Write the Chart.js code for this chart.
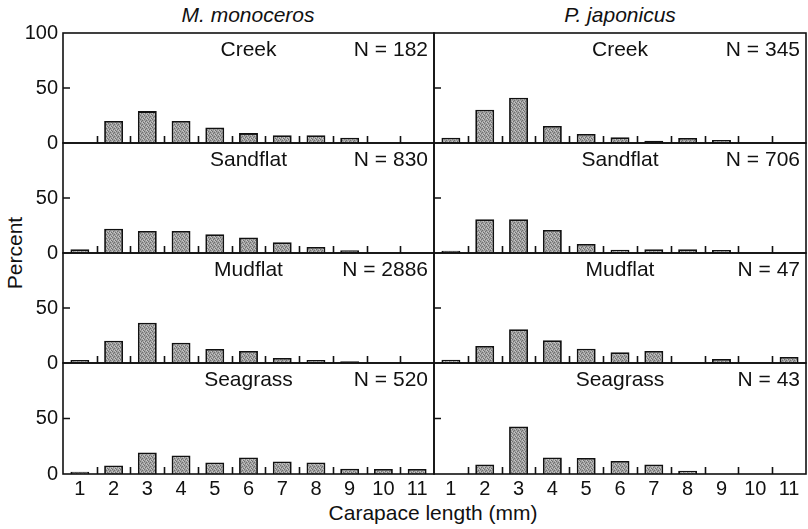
<!DOCTYPE html>
<html>
<head>
<meta charset="utf-8">
<script src="https://cdn.jsdelivr.net/npm/chart.js@4.4.0/dist/chart.umd.min.js"></script>
<style>
  body { margin: 0; background: #fff; width: 808px; height: 529px; overflow: hidden; position: relative;
         font-family: "Liberation Sans", Arial, sans-serif; color: #111; }
  canvas { position: absolute; }
  .lbl { position: absolute; font-size: 21px; white-space: nowrap; transform: translate(-50%, -50%); }
</style>
</head>
<body>
<div class="lbl" style="left:248px;top:15px;font-style:italic">M. monoceros</div>
<div class="lbl" style="left:620px;top:15px;font-style:italic">P. japonicus</div>
<div class="lbl" style="left:15px;top:253px;transform:translate(-50%,-50%) rotate(-90deg)">Percent</div>
<div class="lbl" style="left:433px;top:513px">Carapace length (mm)</div>

<script>
// size classes (mm) on the x axis
const sizes = ["1", "2", "3", "4", "5", "6", "7", "8", "9", "10", "11"];
const habitats = ["Creek", "Sandflat", "Mudflat", "Seagrass"];
const yTicks = [0, 50, 100];

// sample sizes per habitat
const monocerosN = [182, 830, 2886, 520];
const japonicusN = [345, 706, 47, 43];

// percent of individuals per size class, M. monoceros
const monocerosCreek    = [0, 20, 29, 20, 14, 9, 7, 7, 4.8, 0, 0];
const monocerosSandflat = [3.3, 22, 20, 20, 17, 14, 9.7, 5.5, 2.4, 0, 0];
const monocerosMudflat  = [2.7, 20.3, 36.7, 18.5, 12.7, 10.9, 4.5, 2.7, 1.5, 0, 0];
const monocerosSeagrass = [2.1, 7.6, 19.4, 16.7, 10.3, 14.8, 11.2, 10.3, 4.8, 4.5, 4.5];

// percent of individuals per size class, P. japonicus
const japonicusCreek    = [4.8, 30.3, 41.2, 15.5, 8.2, 5.2, 2, 4.5, 2.7, 0, 0];
const japonicusSandflat = [2.1, 30.6, 30.6, 20.9, 8.2, 3, 3.3, 3.3, 2.7, 0, 0];
const japonicusMudflat  = [3, 15.5, 30.6, 20.6, 13, 9.7, 10.9, 0, 3.6, 0, 5.5];
const japonicusSeagrass = [0, 8.5, 42.7, 14.8, 14.5, 11.8, 8.5, 3, 0, 0, 0];

const columns = [
  { values: [monocerosCreek, monocerosSandflat, monocerosMudflat, monocerosSeagrass], counts: monocerosN },
  { values: [japonicusCreek, japonicusSandflat, japonicusMudflat, japonicusSeagrass], counts: japonicusN },
];

// page layout of the panels
const rowTops = [33, 143, 253, 363];
const rowBottoms = [143, 253, 363, 474];
const colLefts = [63, 434];
const colRights = [434, 806];
const canvasLefts = [0, 424];
const canvasRights = [437, 808];
const PAD = 22; // room above/below each panel for tick labels

// stippled grey fill for the bars
function stipple() {
  const c = document.createElement("canvas");
  c.width = 4; c.height = 4;
  const g = c.getContext("2d");
  g.fillStyle = "#a0a0a0";
  g.fillRect(0, 0, 4, 4);
  g.fillStyle = "#707070";
  [[0, 0], [2, 1], [1, 2], [3, 3]].forEach(([x, y]) => g.fillRect(x, y, 1, 1));
  g.fillStyle = "#c6c6c6";
  [[2, 3], [0, 2], [3, 0]].forEach(([x, y]) => g.fillRect(x, y, 1, 1));
  return g.createPattern(c, "repeat");
}
const barFill = stipple();

const panelDeco = {
  id: "panelDeco",
  afterDatasetsDraw(chart, args, opts) {
    const { ctx, chartArea: a } = chart;
    const xs = chart.scales.x, ys = chart.scales.y;
    ctx.save();
    ctx.strokeStyle = "#111";
    ctx.lineWidth = 1.6;
    ctx.beginPath();
    for (let i = 0; i < sizes.length - 1; i++) {
      const x = Math.round((xs.getPixelForValue(i) + xs.getPixelForValue(i + 1)) / 2) + 0.5;
      ctx.moveTo(x, a.bottom);
      ctx.lineTo(x, a.bottom - 7);
    }
    const y50 = ys.getPixelForValue(50);
    ctx.moveTo(a.left, y50);
    ctx.lineTo(a.left + 7, y50);
    ctx.stroke();
    ctx.strokeRect(a.left, a.top, a.right - a.left, a.bottom - a.top);

    ctx.fillStyle = "#111";
    ctx.font = "21px 'Liberation Sans', Arial, sans-serif";
    ctx.textBaseline = "middle";
    ctx.textAlign = "center";
    ctx.fillText(opts.habitat, (a.left + a.right) / 2, a.top + 17.5);
    ctx.textAlign = "right";
    ctx.fillText("N = " + opts.n, a.right - 6, a.top + 17.5);
    ctx.restore();
  },
};

columns.forEach((col, c) => {
  habitats.forEach((habitat, r) => {
    const isBottom = r === habitats.length - 1;
    const canvasTop = rowTops[r] - PAD;
    const width = canvasRights[c] - canvasLefts[c];
    const xAxisH = isBottom ? 40 : 0;
    const padBottom = isBottom ? 0 : PAD;
    const height = rowBottoms[r] - canvasTop + xAxisH + padBottom;
    const yAxisW = colLefts[c] - canvasLefts[c];

    const canvas = document.createElement("canvas");
    canvas.width = width;
    canvas.height = height;
    canvas.style.left = canvasLefts[c] + "px";
    canvas.style.top = canvasTop + "px";
    document.body.appendChild(canvas);

    new Chart(canvas.getContext("2d"), {
      type: "bar",
      data: {
        labels: sizes,
        datasets: [{
          data: col.values[r],
          backgroundColor: barFill,
          borderColor: "#111",
          borderWidth: 1.8,
          barPercentage: 0.56,
          categoryPercentage: 1,
        }],
      },
      options: {
        responsive: false,
        animation: false,
        layout: {
          padding: { left: c === 0 ? 0 : yAxisW, right: canvasRights[c] - colRights[c], top: PAD, bottom: padBottom },
        },
        plugins: {
          legend: { display: false },
          tooltip: { enabled: false },
          panelDeco: { habitat: habitat, n: col.counts[r] },
        },
        scales: {
          x: {
            display: isBottom,
            grid: { display: false, drawTicks: false },
            border: { display: false },
            ticks: { color: "#111", padding: 3, maxRotation: 0, autoSkip: false,
                     font: { family: "'Liberation Sans', Arial, sans-serif", size: 20 } },
            afterFit: (s) => { if (isBottom) s.height = xAxisH; },
          },
          y: {
            display: c === 0,
            min: 0,
            max: 100,
            grid: { display: false, drawTicks: false },
            border: { display: false },
            afterBuildTicks: (s) => { s.ticks = yTicks.map((v) => ({ value: v })); },
            ticks: {
              color: "#111",
              padding: 5,
              font: { family: "'Liberation Sans', Arial, sans-serif", size: 20 },
              callback: (v) => (v === 100 && r > 0 ? "" : v),
            },
            afterFit: (s) => { if (c === 0) s.width = yAxisW; },
          },
        },
      },
      plugins: [panelDeco],
    });
  });
});
</script>
</body>
</html>
